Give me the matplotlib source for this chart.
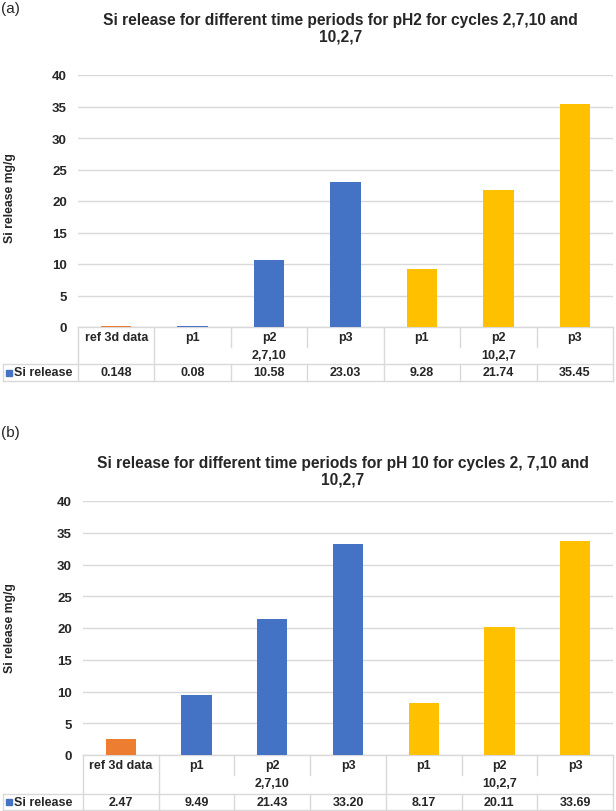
import matplotlib
matplotlib.use("Agg")
import matplotlib.pyplot as plt
from matplotlib.transforms import blended_transform_factory
from matplotlib.patches import Rectangle

# ---- data ----
categories = ['ref 3d data', 'p1', 'p2', 'p3', 'p1', 'p2', 'p3']
group_names = ['2,7,10', '10,2,7']
group_members = [[1, 2, 3], [4, 5, 6]]
series_name = 'Si release'
values_a = [0.148, 0.08, 10.58, 23.03, 9.28, 21.74, 35.45]
values_b = [2.47, 9.49, 21.43, 33.20, 8.17, 20.11, 33.69]
labels_a = ['0.148', '0.08', '10.58', '23.03', '9.28', '21.74', '35.45']
labels_b = ['2.47', '9.49', '21.43', '33.20', '8.17', '20.11', '33.69']
title_a = ['Si release for different time periods for pH2 for cycles 2,7,10 and', '10,2,7']
title_b = ['Si release for different time periods for pH 10 for cycles 2, 7,10 and', '10,2,7']
yticks = [0, 5, 10, 15, 20, 25, 30, 35, 40]
ylabel = 'Si release mg/g'

C_REF = '#ED7D31'
C_BLUE = '#4472C4'
C_YEL = '#FFC000'
bar_colors = [C_REF, C_BLUE, C_BLUE, C_BLUE, C_YEL, C_YEL, C_YEL]
GRID = '#D9D9D9'
TXT = '#262626'

FAM = ['Liberation Sans Narrow', 'Liberation Sans', 'DejaVu Sans']
W, H = 616, 812
fig = plt.figure(figsize=(W / 100, H / 100), dpi=100)


def fx(px):
    return px / W


def fy(py):
    return 1 - py / H


def panel(letter, letter_y, titles, title_ys, values, labels, left, top, bottom,
          row1_bot, row2_bot, ylabel_y):
    right = 613
    ax = fig.add_axes([fx(left), fy(bottom), fx(right) - fx(left), fy(top) - fy(bottom)])
    x = list(range(len(categories)))
    ax.bar(x, values, width=0.4, color=bar_colors, zorder=3)
    ax.set_xlim(-0.5, len(categories) - 0.5)
    ax.set_ylim(0, 40)
    ax.set_yticks(yticks)
    ax.set_yticklabels([str(t) for t in yticks], fontfamily=FAM, fontweight='bold',
                       fontsize=9.5, color=TXT)
    ax.tick_params(axis='y', length=0, pad=8)
    ax.tick_params(axis='x', bottom=False, labelbottom=False)
    ax.grid(axis='y', color=GRID, lw=1, zorder=0)
    for s in ax.spines.values():
        s.set_visible(False)

    tr = blended_transform_factory(ax.transData, fig.transFigure)
    lw = 1
    # table horizontal lines
    ax.plot([-0.5, 6.5], [fy(bottom)] * 2, transform=tr, color=GRID, lw=lw,
            clip_on=False)
    for yy in (row1_bot, row2_bot):
        fig.add_artist(plt.Line2D([fx(3), fx(right)], [fy(yy), fy(yy)],
                                  color=GRID, lw=lw))
    # vertical lines
    for xb in [-0.5, 0.5, 3.5, 6.5]:
        ax.plot([xb, xb], [fy(bottom), fy(row2_bot)], transform=tr, color=GRID,
                lw=lw, clip_on=False)
    for xb in [1.5, 2.5, 4.5, 5.5]:
        ax.plot([xb, xb], [fy(bottom), fy(bottom + 20)], transform=tr, color=GRID,
                lw=lw, clip_on=False)
        ax.plot([xb, xb], [fy(row1_bot), fy(row2_bot)], transform=tr, color=GRID,
                lw=lw, clip_on=False)
    fig.add_artist(plt.Line2D([fx(3), fx(3)], [fy(row1_bot), fy(row2_bot)],
                              color=GRID, lw=lw))
    # category labels and values
    for i, c in enumerate(categories):
        ax.text(i, fy(bottom + 10), c, transform=tr, ha='center', va='center',
                fontfamily=FAM, fontweight='bold', fontsize=9, color=TXT)
        ax.text(i, fy((row1_bot + row2_bot) / 2), labels[i], transform=tr,
                ha='center', va='center', fontfamily=FAM, fontweight='bold',
                fontsize=9, color=TXT)
    for g, mem in zip(group_names, group_members):
        xc = sum(mem) / len(mem)
        ax.text(xc, fy(bottom + 28), g, transform=tr, ha='center', va='center',
                fontfamily=FAM, fontweight='bold', fontsize=9, color=TXT)
    # legend key
    ym = (row1_bot + row2_bot) / 2
    fig.add_artist(Rectangle((fx(6), fy(ym + 3)), fx(6), fy(ym - 3) - fy(ym + 3),
                             color=C_BLUE, transform=fig.transFigure))
    fig.text(fx(14), fy(ym), series_name, ha='left', va='center', fontfamily=FAM,
             fontweight='bold', fontsize=9, color=TXT)
    # titles
    for t, yy in zip(titles, title_ys):
        fig.text(fx((left + right) / 2 - 5), fy(yy), t, ha='center', va='center',
                 fontfamily=FAM, fontweight='bold', fontsize=11.2, color=TXT)
    fig.text(fx(1), fy(letter_y), letter, ha='left', va='center',
             fontfamily=FAM, fontsize=11, color=TXT)
    fig.text(fx(10), fy(ylabel_y), ylabel, rotation=90, ha='center', va='center',
             fontfamily=FAM, fontweight='bold', fontsize=8.8, color=TXT)
    return ax


panel('(a)', 9, title_a, [20, 37], values_a, labels_a, 78, 76, 328, 365, 382, 198)
panel('(b)', 433, title_b, [464, 480], values_b, labels_b, 83, 502, 756, 795, 811, 628)

fig.savefig('out.png', dpi=100, facecolor='white')
